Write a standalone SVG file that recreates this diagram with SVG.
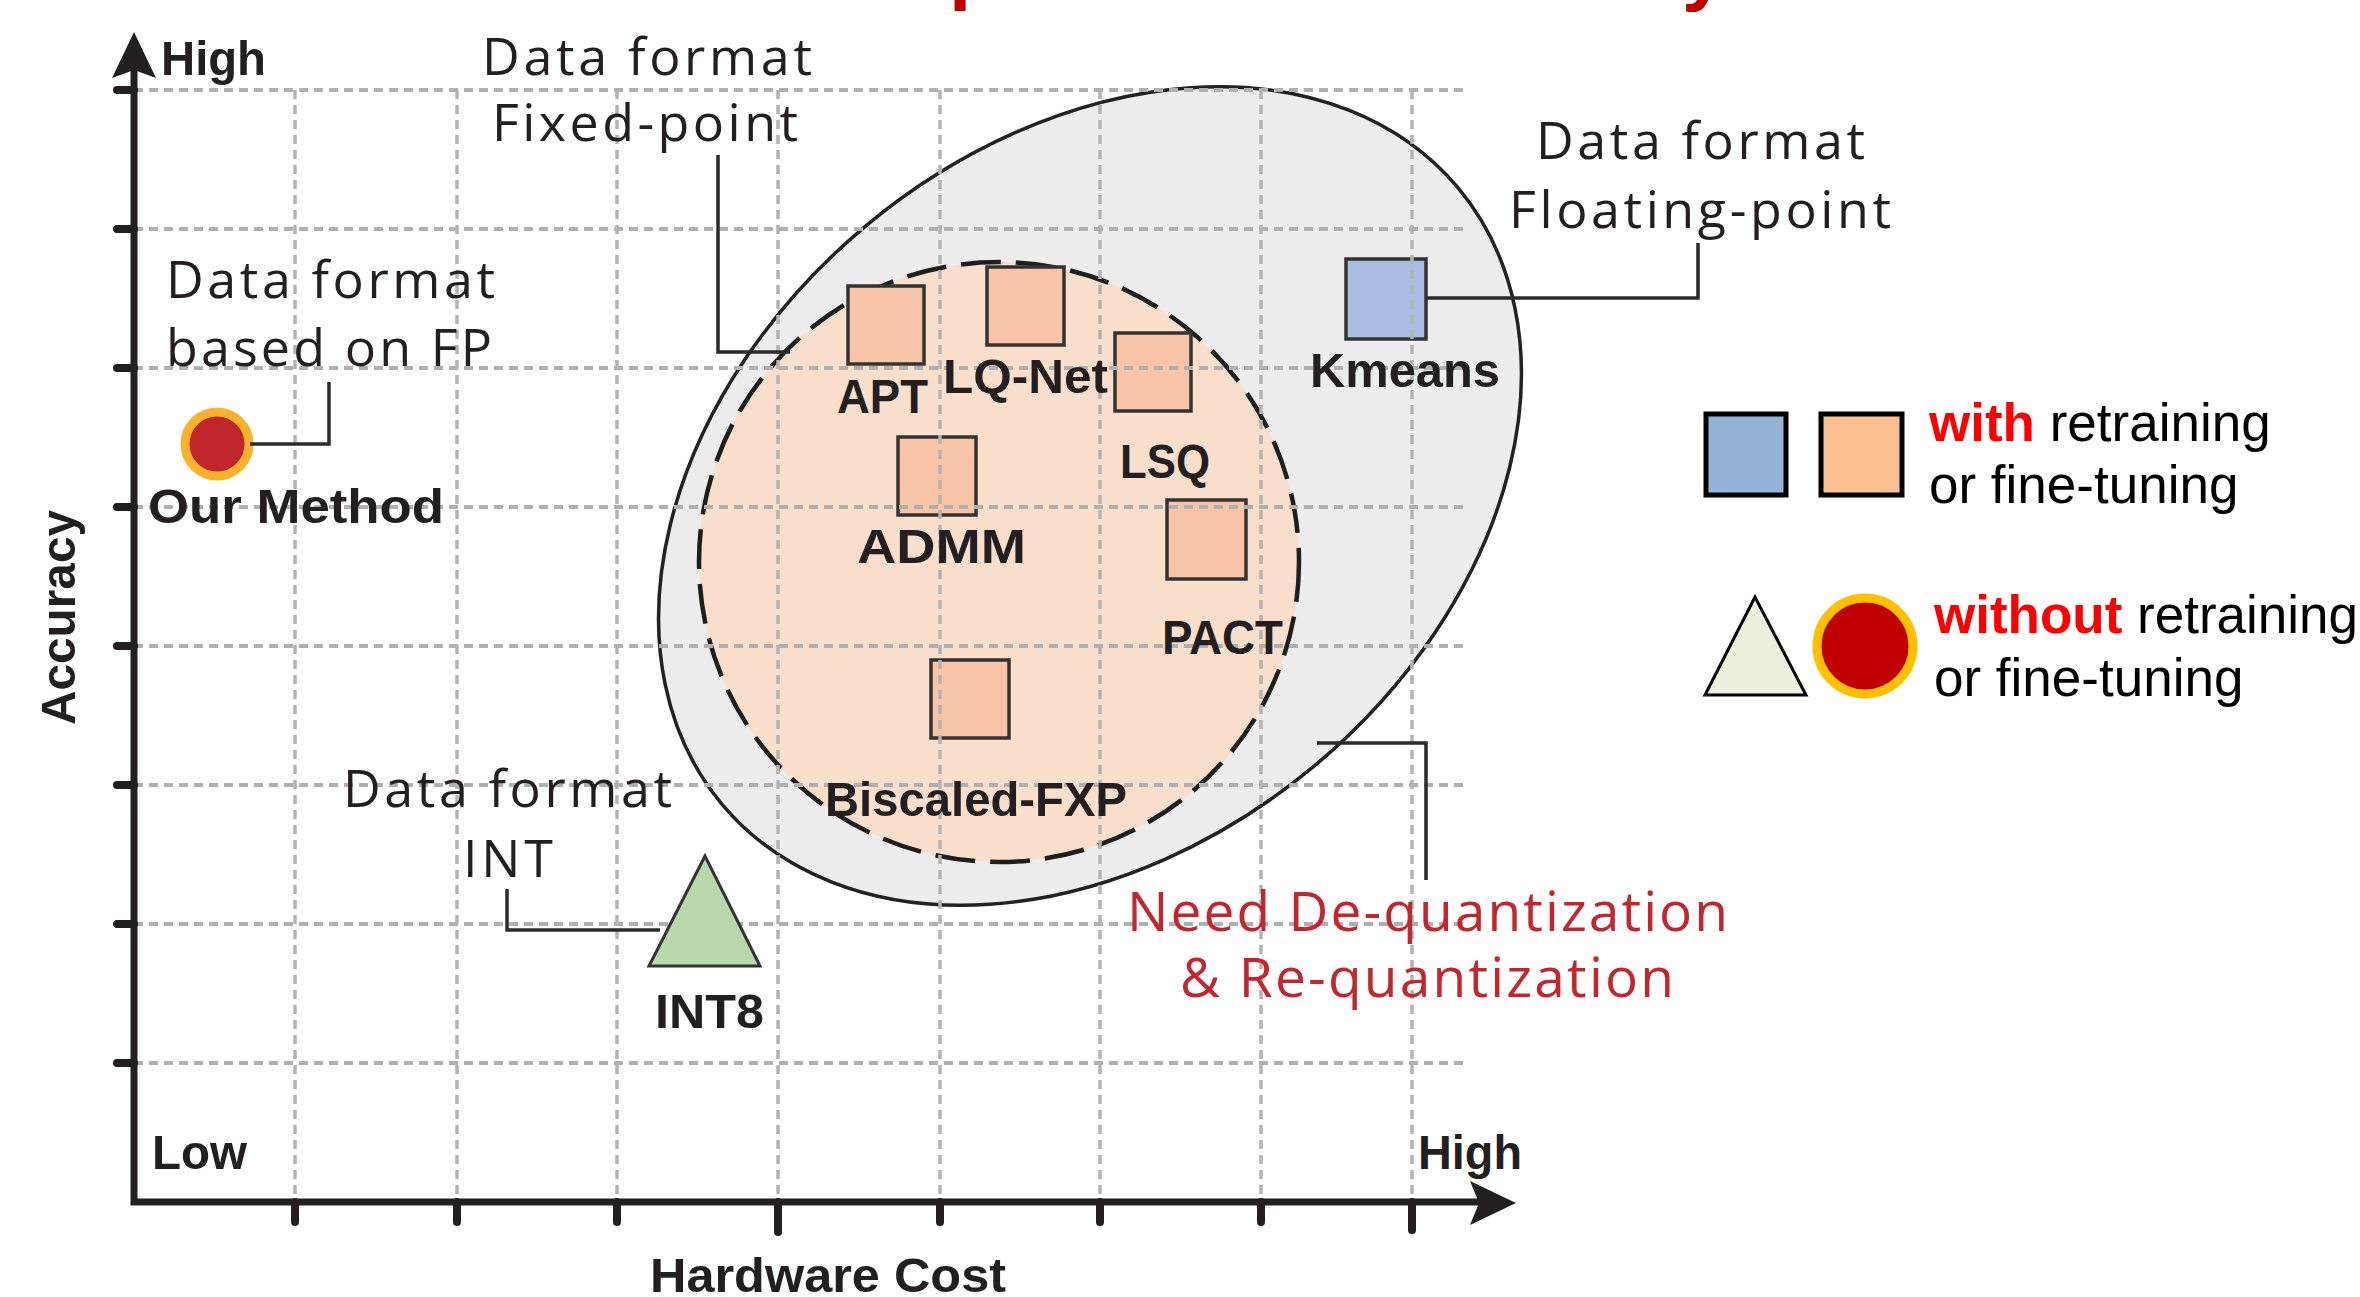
<svg xmlns="http://www.w3.org/2000/svg" width="2360" height="1297" viewBox="0 0 2360 1297">
<defs>
<style>
.lbl{font-family:"Liberation Sans",Arial,sans-serif;font-weight:bold;font-size:49px;fill:#231f20}
.df{font-family:"Open Sans","Liberation Sans",Arial,sans-serif;font-size:52px;fill:#231f20}
.red{font-family:"Open Sans","Liberation Sans",Arial,sans-serif;font-size:55px;fill:#c4262e}
.leg{font-family:"Liberation Sans",Arial,sans-serif;font-size:53px;fill:#000}
.hot{font-weight:bold;fill:#ff0000}
.ttl{font-family:"Liberation Sans",Arial,sans-serif;font-weight:bold;font-size:80px;fill:#c00000}
.gh{stroke:#b0b0b0;stroke-width:4;stroke-dasharray:9 6;fill:none}
.gv{stroke:#b3b3b3;stroke-width:3.5;stroke-dasharray:9 6;fill:none}
.sq{fill:#f8c5a9;stroke:#333;stroke-width:3.5}
.conn{fill:none;stroke:#2b2b2b;stroke-width:3.5}
.ax{stroke:#231f20;stroke-width:7;fill:none;stroke-linejoin:miter}
.tick{stroke:#231f20;stroke-width:8;stroke-linecap:round;fill:none}
</style>
</defs>
<rect width="2360" height="1297" fill="#fff"/>

<!-- title fragments (cut off at top edge) -->
<text class="ttl" x="949" y="-6">p</text>
<text class="ttl" x="1682" y="-5">y</text>

<!-- regions -->
<g id="region-floating">
<ellipse cx="1090" cy="496" rx="480" ry="351" transform="rotate(-40 1090 496)" fill="#ededed" stroke="#222" stroke-width="3.5"/>
</g>
<g id="region-fixed">
<circle cx="999" cy="562" r="300" fill="#f9dfcc" stroke="#1e1e1e" stroke-width="4.5" stroke-dasharray="40 15"/>
</g>

<!-- squares under grid -->
<g id="node-apt"><rect class="sq" x="848" y="286" width="76" height="78"/></g>
<g id="node-lqnet"><rect class="sq" x="987" y="267" width="77" height="78"/></g>
<g id="node-lsq"><rect class="sq" x="1115" y="333" width="76" height="78"/></g>
<g id="node-admm"><rect class="sq" x="898" y="437" width="78" height="78"/></g>
<g id="node-pact"><rect class="sq" x="1167" y="500" width="79" height="79"/></g>
<g id="node-biscaled"><rect class="sq" x="931" y="660" width="78" height="78"/></g>
<g id="node-kmeans"><rect x="1346" y="259" width="80" height="80" fill="#a9bde2" stroke="#333" stroke-width="3.5"/></g>

<!-- grid -->
<g id="grid">
<path class="gh" d="M134 90H1468M134 229H1468M134 368H1468M134 507H1468M134 646H1468M134 785H1468M134 924H1468M134 1063H1468"/>
<path class="gv" d="M295 90V1200M457 90V1200M617 90V1200M778 90V1200M940 90V1200M1100 90V1200M1261 90V1200M1412 90V1200"/>
</g>

<g id="node-int8"><polygon points="705,856 649,966 760,966" fill="#b9d9ac" stroke="#333" stroke-width="3"/></g>
<g id="node-ours"><circle cx="217" cy="444" r="32" fill="#c0272d" stroke="#f9b32a" stroke-width="9"/></g>

<!-- connectors -->
<g id="connectors">
<path class="conn" d="M250 444H329V382"/>
<path class="conn" d="M718 155V352H790"/>
<path class="conn" d="M1427 298H1698V243"/>
<path class="conn" d="M660 930H507V889"/>
<path class="conn" d="M1317 743H1426V880"/>
</g>

<!-- axes -->
<g id="axes">
<path class="tick" d="M117 90H134M117 229H134M117 368H134M117 507H134M117 646H134M117 785H134M117 924H134M117 1063H134"/>
<path class="tick" d="M295 1202V1222M457 1202V1222M617 1202V1222M778 1202V1232M940 1202V1222M1100 1202V1222M1261 1202V1222M1412 1202V1230"/>
<path class="ax" d="M134 66V1202H1485"/>
<polygon points="134,32 112,78 134,70 156,78" fill="#231f20"/>
<polygon points="1516,1203 1470,1181 1479,1203 1470,1225" fill="#231f20"/>
</g>

<!-- labels -->
<g id="labels">
<text class="lbl" x="161" y="75" textLength="105" lengthAdjust="spacingAndGlyphs">High</text>
<text class="lbl" x="152" y="1169" textLength="95" lengthAdjust="spacingAndGlyphs">Low</text>
<text class="lbl" x="1418" y="1169" textLength="104" lengthAdjust="spacingAndGlyphs">High</text>
<text class="lbl" x="650" y="1292" textLength="356" lengthAdjust="spacingAndGlyphs">Hardware Cost</text>
<text class="lbl" transform="translate(75 725) rotate(-90)" x="0" y="0" textLength="215" lengthAdjust="spacingAndGlyphs">Accuracy</text>
<text class="lbl" x="148" y="523" textLength="296" lengthAdjust="spacingAndGlyphs">Our Method</text>
<text class="lbl" x="837" y="413" textLength="91" lengthAdjust="spacingAndGlyphs">APT</text>
<text class="lbl" x="943" y="393" textLength="165" lengthAdjust="spacingAndGlyphs">LQ-Net</text>
<text class="lbl" x="1120" y="478" textLength="90" lengthAdjust="spacingAndGlyphs">LSQ</text>
<text class="lbl" x="857" y="563" textLength="169" lengthAdjust="spacingAndGlyphs">ADMM</text>
<text class="lbl" x="1162" y="654" textLength="121" lengthAdjust="spacingAndGlyphs">PACT</text>
<text class="lbl" x="825" y="816" textLength="302" lengthAdjust="spacingAndGlyphs">Biscaled-FXP</text>
<text class="lbl" x="1310" y="387" textLength="190" lengthAdjust="spacingAndGlyphs">Kmeans</text>
<text class="lbl" x="655" y="1028" textLength="109" lengthAdjust="spacingAndGlyphs">INT8</text>

<text class="df" x="482" y="75" textLength="330">Data format</text>
<text class="df" x="492" y="141" textLength="306">Fixed-point</text>
<text class="df" x="166" y="298" textLength="329">Data format</text>
<text class="df" x="166" y="366" textLength="326">based on FP</text>
<text class="df" x="1536" y="159" textLength="329">Data format</text>
<text class="df" x="1509" y="228" textLength="382">Floating-point</text>
<text class="df" x="343" y="807" textLength="329">Data format</text>
<text class="df" x="463" y="877" textLength="90">INT</text>

<text class="red" x="1127" y="931" textLength="601">Need De-quantization</text>
<text class="red" x="1180" y="997" textLength="494">&amp; Re-quantization</text>
</g>

<!-- legend -->
<g id="legend-with">
<rect x="1706" y="414" width="80" height="81" fill="#95b3d7" stroke="#000" stroke-width="5"/>
<rect x="1821" y="414" width="81" height="81" fill="#fac090" stroke="#000" stroke-width="5"/>
<text class="leg" x="1929" y="441"><tspan class="hot">with</tspan> retraining</text>
<text class="leg" x="1929" y="503">or fine-tuning</text>
</g>
<g id="legend-without">
<polygon points="1755,597 1705,695 1806,695" fill="#ebf1de" stroke="#000" stroke-width="3"/>
<circle cx="1865" cy="646" r="48" fill="#c00000" stroke="#ffc000" stroke-width="9"/>
<text class="leg" x="1934" y="633"><tspan class="hot">without</tspan> retraining</text>
<text class="leg" x="1934" y="696">or fine-tuning</text>
</g>
</svg>
